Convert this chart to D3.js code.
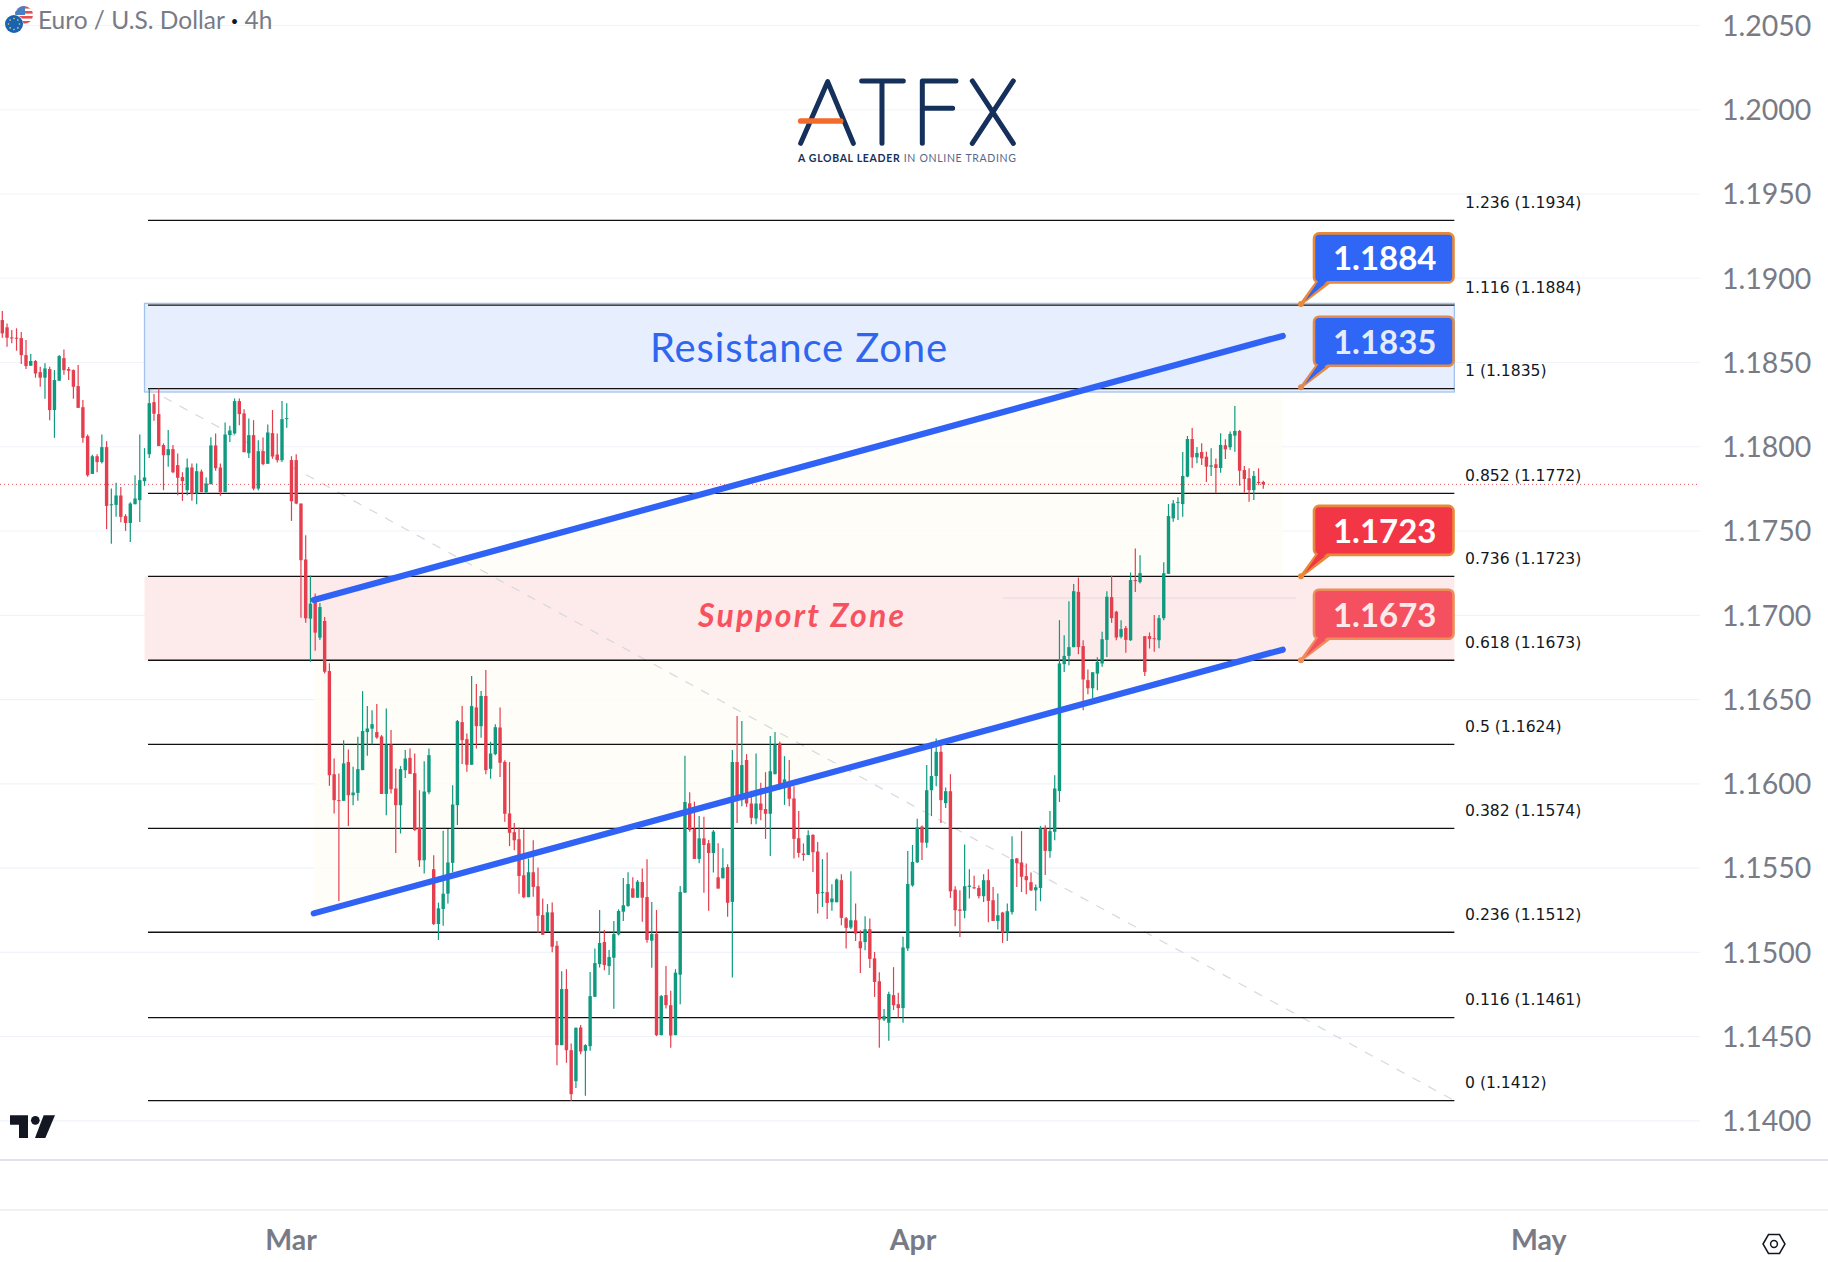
<!DOCTYPE html>
<meta charset="utf-8">
<title>Euro / U.S. Dollar 4h</title>
<style>
html, body { margin: 0; padding: 0; background: #fff; }
svg { display: block; }
</style>
<div id="chart"></div>
<script src="https://d3js.org/d3.v7.min.js"></script>
<script>
var opens = [
1.18749,1.18706,1.18646,1.18644,1.18642,1.18541,1.18478,1.18506,1.18440,1.18407,
1.18458,1.18215,1.18389,1.18523,1.18458,1.18452,1.18357,1.18232,1.18060,1.17836,
1.17941,1.17906,1.17995,1.17652,1.17652,1.17708,1.17585,1.17545,1.17656,1.17680,
1.17793,1.17953,1.18262,1.18191,1.18007,1.17947,1.17983,1.17888,1.17817,1.17739,
1.17874,1.17720,1.17850,1.17728,1.17775,1.18005,1.17874,1.17728,1.18066,1.18076,
1.18268,1.18195,1.17959,1.18066,1.17749,1.17971,1.17896,1.18078,1.17951,1.17918,
1.18163,1.17918,1.17918,1.17660,1.17328,1.16977,1.17100,1.16864,1.16963,1.16666,
1.16054,1.15900,1.15896,1.16126,1.15929,1.15943,1.16078,1.16304,1.16324,1.16304,
1.16278,1.15937,1.16230,1.15969,1.15870,1.16078,1.16151,1.16060,1.15737,1.15543,
1.15947,1.15490,1.15165,1.15254,1.15345,1.15528,1.15870,1.16363,1.16262,1.16110,
1.16450,1.16339,1.16518,1.16086,1.16173,1.16331,1.16127,1.15821,1.15710,1.15668,
1.15454,1.15324,1.15472,1.15389,1.15218,1.15119,1.15234,1.15036,1.14446,1.14779,
1.14416,1.14232,1.14551,1.14412,1.14440,1.14733,1.14927,1.15058,1.14915,1.14965,
1.15103,1.15238,1.15272,1.15376,1.15321,1.15414,1.15325,1.15066,1.15107,1.14505,
1.14743,1.14683,1.14505,1.14864,1.15351,1.15881,1.15729,1.15551,1.15673,1.15644,
1.15586,1.15442,1.15436,1.15503,1.15296,1.16126,1.15900,1.16138,1.15880,1.15791,
1.15880,1.15847,1.15819,1.16054,1.16237,1.15971,1.15989,1.15910,1.15674,1.15583,
1.15575,1.15694,1.15595,1.15350,1.15354,1.15294,1.15294,1.15425,1.15199,1.15144,
1.15187,1.15062,1.15058,1.15134,1.14961,1.14825,1.14598,1.14579,1.14743,1.14689,
1.14666,1.15020,1.15394,1.15531,1.15743,1.15647,1.15959,1.16043,1.16187,1.15882,
1.15953,1.15369,1.15251,1.15243,1.15385,1.15383,1.15379,1.15330,1.15425,1.15306,
1.15183,1.15233,1.15114,1.15235,1.15554,1.15530,1.15449,1.15413,1.15365,1.15379,
1.15732,1.15597,1.15712,1.15954,1.16707,1.16756,1.16808,1.17136,1.16814,1.16612,
1.16564,1.16651,1.16711,1.16851,1.17105,1.17018,1.16869,1.16921,1.16849,1.17206,
1.17194,1.16873,1.16873,1.16861,1.16849,1.16980,1.17243,1.17572,1.17665,1.17657,
1.17820,1.18043,1.17934,1.17966,1.17938,1.17879,1.17893,1.17871,1.18006,1.17994,
1.18063,1.18091,1.17859,1.17810,1.17740,1.17788,1.17788];
var highs = [
1.18803,1.18729,1.18690,1.18700,1.18678,1.18630,1.18547,1.18512,1.18472,1.18492,
1.18472,1.18452,1.18541,1.18575,1.18470,1.18456,1.18482,1.18274,1.18070,1.17949,
1.17953,1.18070,1.18030,1.17749,1.17783,1.17759,1.17597,1.17668,1.17828,1.18070,
1.17989,1.18343,1.18310,1.18343,1.18017,1.18096,1.18007,1.17957,1.17846,1.17927,
1.17898,1.17898,1.17862,1.17815,1.18054,1.18076,1.17898,1.18141,1.18122,1.18284,
1.18284,1.18219,1.18165,1.18155,1.18036,1.18052,1.18129,1.18215,1.18076,1.18268,
1.18256,1.17941,1.17953,1.17660,1.17472,1.17233,1.17126,1.17070,1.16987,1.16712,
1.16147,1.16058,1.16256,1.16201,1.16098,1.16276,1.16547,1.16458,1.16434,1.16470,
1.16286,1.16444,1.16316,1.16088,1.16102,1.16197,1.16207,1.16177,1.15959,1.16131,
1.16207,1.15573,1.15292,1.15718,1.15728,1.15989,1.16375,1.16458,1.16296,1.16636,
1.16589,1.16547,1.16672,1.16246,1.16351,1.16450,1.16137,1.16126,1.15765,1.15737,
1.15726,1.15553,1.15662,1.15500,1.15317,1.15283,1.15293,1.15064,1.14885,1.14897,
1.14456,1.14551,1.14565,1.14452,1.14880,1.15020,1.15248,1.15129,1.15010,1.15182,
1.15252,1.15438,1.15472,1.15442,1.15426,1.15495,1.15549,1.15295,1.15248,1.14743,
1.14915,1.14769,1.14897,1.15390,1.16163,1.15947,1.15891,1.15806,1.15802,1.15664,
1.15723,1.15644,1.15614,1.15519,1.16197,1.16399,1.16369,1.16173,1.15955,1.16177,
1.16003,1.16066,1.16280,1.16304,1.16246,1.16161,1.16138,1.15983,1.15835,1.15643,
1.15722,1.15698,1.15651,1.15550,1.15589,1.15401,1.15435,1.15460,1.15207,1.15478,
1.15286,1.15128,1.15211,1.15197,1.14999,1.14878,1.14660,1.14763,1.14909,1.14757,
1.15089,1.15598,1.15634,1.15790,1.15749,1.16108,1.16246,1.16266,1.16237,1.15975,
1.16054,1.15389,1.15365,1.15637,1.15490,1.15451,1.15395,1.15460,1.15490,1.15385,
1.15346,1.15237,1.15286,1.15686,1.15557,1.15716,1.15524,1.15470,1.15399,1.15746,
1.15751,1.15835,1.16048,1.16968,1.16879,1.17081,1.17182,1.17220,1.16849,1.16675,
1.16659,1.16748,1.16899,1.17140,1.17232,1.17024,1.16968,1.16933,1.17251,1.17394,
1.17354,1.16873,1.16895,1.16998,1.16998,1.17311,1.17657,1.17681,1.17697,1.17966,
1.18061,1.18109,1.17996,1.18018,1.17968,1.17988,1.17928,1.18077,1.18041,1.18087,
1.18239,1.18097,1.17883,1.17869,1.17853,1.17869,1.17796];
var lows = [
1.18644,1.18591,1.18611,1.18567,1.18488,1.18458,1.18478,1.18407,1.18353,1.18282,
1.18155,1.18050,1.18389,1.18424,1.18393,1.18282,1.18228,1.18021,1.17819,1.17836,
1.17846,1.17898,1.17508,1.17421,1.17581,1.17549,1.17498,1.17432,1.17656,1.17551,
1.17765,1.17931,1.18151,1.18001,1.17739,1.17878,1.17840,1.17710,1.17676,1.17710,
1.17676,1.17656,1.17728,1.17720,1.17775,1.17854,1.17706,1.17728,1.18025,1.18070,
1.18125,1.17965,1.17931,1.17739,1.17739,1.17888,1.17896,1.17926,1.17904,1.17908,
1.18110,1.17557,1.17656,1.16983,1.16953,1.16721,1.16787,1.16850,1.16652,1.15985,
1.15821,1.15302,1.15896,1.15747,1.15870,1.15896,1.16078,1.16163,1.16230,1.16264,
1.15937,1.15811,1.15939,1.15587,1.15702,1.16032,1.16056,1.15718,1.15504,1.15464,
1.15935,1.15159,1.15070,1.15155,1.15286,1.15474,1.15753,1.16114,1.16068,1.16110,
1.16207,1.16270,1.16054,1.16027,1.16167,1.16038,1.15771,1.15627,1.15603,1.15345,
1.15318,1.15324,1.15326,1.15113,1.15101,1.15119,1.14998,1.14327,1.14446,1.14341,
1.14114,1.14192,1.14392,1.14145,1.14412,1.14733,1.14907,1.14891,1.14862,1.14662,
1.15097,1.15182,1.15268,1.15321,1.15321,1.15178,1.15054,1.14905,1.14499,1.14505,
1.14664,1.14430,1.14505,1.14689,1.15351,1.15713,1.15551,1.15525,1.15351,1.15244,
1.15470,1.15375,1.15436,1.15208,1.14847,1.15765,1.15864,1.15860,1.15757,1.15757,
1.15781,1.15670,1.15569,1.16054,1.15963,1.15872,1.15864,1.15553,1.15559,1.15540,
1.15575,1.15474,1.15227,1.15266,1.15195,1.15243,1.15294,1.15157,1.15019,1.15136,
1.15064,1.14874,1.15009,1.14904,1.14732,1.14430,1.14590,1.14472,1.14654,1.14610,
1.14579,1.15004,1.15386,1.15527,1.15545,1.15617,1.15805,1.15983,1.15765,1.15854,
1.15320,1.15152,1.15088,1.15199,1.15316,1.15373,1.15316,1.15296,1.15175,1.15183,
1.15132,1.15053,1.15064,1.15221,1.15385,1.15355,1.15342,1.15361,1.15243,1.15300,
1.15456,1.15558,1.15662,1.15889,1.16661,1.16701,1.16808,1.16766,1.16434,1.16529,
1.16503,1.16552,1.16691,1.16750,1.16952,1.16849,1.16859,1.16774,1.16845,1.17135,
1.17186,1.16636,1.16800,1.16780,1.16802,1.16968,1.17243,1.17552,1.17562,1.17582,
1.17816,1.17871,1.17899,1.17889,1.17788,1.17824,1.17721,1.17843,1.17925,1.17978,
1.17968,1.17766,1.17725,1.17671,1.17681,1.17770,1.17748];
var closes = [
1.18670,1.18644,1.18642,1.18638,1.18541,1.18476,1.18506,1.18432,1.18407,1.18462,
1.18215,1.18393,1.18535,1.18452,1.18448,1.18353,1.18228,1.18050,1.17828,1.17941,
1.17906,1.17995,1.17646,1.17656,1.17708,1.17581,1.17545,1.17660,1.17690,1.17799,
1.17815,1.18256,1.18193,1.18001,1.17947,1.17983,1.17846,1.17813,1.17793,1.17874,
1.17716,1.17852,1.17728,1.17779,1.18005,1.17870,1.17728,1.18070,1.18094,1.18268,
1.18191,1.17965,1.18066,1.17749,1.17971,1.17894,1.18082,1.17939,1.17918,1.18161,
1.18167,1.17674,1.17660,1.17324,1.16979,1.17066,1.16894,1.17046,1.16662,1.16048,
1.15900,1.15896,1.16118,1.15929,1.15945,1.16084,1.16310,1.16325,1.16351,1.16272,
1.15937,1.16230,1.15965,1.15870,1.16084,1.16147,1.16056,1.15722,1.15543,1.15951,
1.16167,1.15165,1.15258,1.15345,1.15530,1.15874,1.16369,1.16256,1.16110,1.16458,
1.16339,1.16518,1.16078,1.16177,1.16333,1.16122,1.15819,1.15706,1.15662,1.15450,
1.15324,1.15472,1.15385,1.15214,1.15101,1.15234,1.15030,1.14446,1.14779,1.14416,
1.14155,1.14549,1.14408,1.14446,1.14737,1.14933,1.15052,1.14921,1.14969,1.15105,
1.15242,1.15276,1.15402,1.15321,1.15416,1.15321,1.15070,1.15105,1.14505,1.14737,
1.14683,1.14503,1.14876,1.15355,1.15889,1.15723,1.15551,1.15673,1.15634,1.15586,
1.15713,1.15375,1.15499,1.15291,1.16126,1.15900,1.16108,1.15880,1.15795,1.15880,
1.15841,1.15819,1.16072,1.16231,1.15971,1.16023,1.15908,1.15670,1.15587,1.15575,
1.15692,1.15591,1.15344,1.15354,1.15290,1.15316,1.15429,1.15201,1.15142,1.15187,
1.15108,1.15021,1.15134,1.14958,1.14821,1.14598,1.14618,1.14749,1.14683,1.14666,
1.15026,1.15402,1.15533,1.15739,1.15648,1.15959,1.16043,1.16187,1.15900,1.15953,
1.15359,1.15247,1.15243,1.15389,1.15393,1.15379,1.15330,1.15425,1.15302,1.15183,
1.15217,1.15114,1.15241,1.15550,1.15526,1.15445,1.15425,1.15365,1.15383,1.15732,
1.15599,1.15716,1.15969,1.16711,1.16756,1.16808,1.17140,1.16808,1.16616,1.16564,
1.16659,1.16721,1.16855,1.17107,1.16980,1.16865,1.16915,1.16851,1.17206,1.17202,
1.17247,1.16661,1.16857,1.16857,1.16980,1.17247,1.17586,1.17661,1.17669,1.17824,
1.18043,1.17934,1.17960,1.17928,1.17879,1.17887,1.17871,1.18008,1.17982,1.18073,
1.18091,1.17855,1.17806,1.17740,1.17824,1.17782,1.17774];

var priceTicks = [1.14,1.145,1.15,1.155,1.16,1.165,1.17,1.175,1.18,1.185,1.19,1.195,1.2,1.205];
var monthTicks = [60.8, 192, 324];
var monthLabels = ["Mar", "Apr", "May"];

var fibPrices = [1.1934, 1.18838, 1.18342, 1.17721, 1.17228, 1.1673, 1.16231, 1.15733, 1.15116, 1.14609, 1.14117];
var fibLabels = ["1.236 (1.1934)", "1.116 (1.1884)", "1 (1.1835)", "0.852 (1.1772)", "0.736 (1.1723)", "0.618 (1.1673)", "0.5 (1.1624)", "0.382 (1.1574)", "0.236 (1.1512)", "0.116 (1.1461)", "0 (1.1412)"];
var lastPrice = 1.17774;

var calloutLabels = ["1.1884", "1.1835", "1.1723", "1.1673"];
var calloutPrices = [1.18845, 1.1835, 1.17228, 1.1673];

var w = 1828, h = 1262;
var plotRight = 1700;
var green = "#0f9a80", red = "#e53e4e";

var x = d3.scaleLinear().domain([0, 266]).range([2.3, 1263.3]);
var y = d3.scaleLinear().domain([1.14, 1.205]).range([1120.3, 25]);
// bar index of the right hand end of the drawings
var drawEnd = 306.3, drawStart = 30.74;

var svg = d3.select("#chart").append("svg").attr("width", w).attr("height", h);
svg.append("rect").attr("width", w).attr("height", h).attr("fill", "#fff");

// grid
var grid = svg.append("g").call(d3.axisRight(y).tickValues(priceTicks).tickSize(plotRight).tickFormat(""));
grid.select(".domain").remove();
grid.selectAll("line").attr("stroke", "#f0f3fa").attr("stroke-width", 1.2);

// channel fill
var channelLow = [[65.7, 1.15228], [270.1, 1.16793]];
var channelHigh = [[65.7, 1.17088], [270.1, 1.18655]];
svg.append("path")
  .attr("d", d3.line().x(function(d){return x(d[0])}).y(function(d){return y(d[1])})(channelLow.concat(channelHigh.slice().reverse())))
  .attr("fill", "#fffcf5").attr("fill-opacity", .8);

// zones
function zone(top, bottom, fill, stroke) {
  svg.append("rect")
    .attr("x", x(30)).attr("y", y(top))
    .attr("width", x(drawEnd) - x(30)).attr("height", y(bottom) - y(top))
    .attr("fill", fill).attr("stroke", stroke).attr("stroke-width", 1.3);
}
zone(1.18848, 1.18322, "#e7eefd", "#a3c4ea");
zone(1.17228, 1.1673, "#fdeaea", "none");

// dashed diagonal of the fib
svg.append("line")
  .attr("x1", x(drawStart)).attr("y1", y(fibPrices[2]))
  .attr("x2", x(drawEnd)).attr("y2", y(fibPrices[10]))
  .attr("stroke", "#d6d8dc").attr("stroke-width", 1.2).attr("stroke-dasharray", "9 9");

// faint line inside the support zone
svg.append("line")
  .attr("x1", 1003).attr("x2", 1296).attr("y1", y(1.171)).attr("y2", y(1.171))
  .attr("stroke", "#e5d8e4").attr("stroke-width", 1);

// last price
svg.append("line")
  .attr("x1", 0).attr("x2", plotRight).attr("y1", y(lastPrice)).attr("y2", y(lastPrice))
  .attr("stroke", "#e0505c").attr("stroke-width", 1).attr("stroke-dasharray", "1 3");

// fib levels
svg.append("g").selectAll("line").data(fibPrices).enter().append("line")
  .attr("x1", x(drawStart)).attr("x2", x(drawEnd))
  .attr("y1", function(d){return y(d)}).attr("y2", function(d){return y(d)})
  .attr("stroke", "#111").attr("stroke-width", 1.3);

svg.append("g").selectAll("text").data(fibLabels).enter().append("text")
  .attr("x", 1465)
  .attr("y", function(d,i){return y(fibPrices[i]) - 12.5})
  .text(function(d){return d})
  .style("font-family", "'DejaVu Sans'").style("font-size", "15.6px").style("fill", "#131722");

// candles
var candles = svg.append("g").selectAll("g").data(d3.range(opens.length)).enter().append("g");
candles.append("line")
  .attr("x1", function(i){return x(i)}).attr("x2", function(i){return x(i)})
  .attr("y1", function(i){return y(highs[i])}).attr("y2", function(i){return y(lows[i])})
  .attr("stroke", function(i){return closes[i] >= opens[i] ? green : red})
  .attr("stroke-width", 1.2);
candles.append("rect")
  .attr("x", function(i){return x(i) - 1.7})
  .attr("width", 3.4)
  .attr("y", function(i){return y(Math.max(opens[i], closes[i]))})
  .attr("height", function(i){return Math.max(1, Math.abs(y(opens[i]) - y(closes[i])))})
  .attr("fill", function(i){return closes[i] >= opens[i] ? green : red});

// trend lines
[channelLow, channelHigh].forEach(function(c){
  svg.append("line")
    .attr("x1", x(c[0][0])).attr("y1", y(c[0][1]))
    .attr("x2", x(c[1][0])).attr("y2", y(c[1][1]))
    .attr("stroke", "#2f62f5").attr("stroke-width", 6.2).attr("stroke-linecap", "round");
});

// zone titles
svg.append("text").attr("x", 650).attr("y", 361.7)
  .attr("textLength", 297).attr("lengthAdjust", "spacing")
  .text("Resistance Zone")
  .style("font-family", "Lato").style("font-size", "40px").style("fill", "#2f66f0");
svg.append("text").attr("x", 698).attr("y", 627)
  .attr("textLength", 206).attr("lengthAdjust", "spacing")
  .text("Support Zone")
  .style("font-family", "Lato").style("font-size", "32px").style("font-weight", "bold").style("font-style", "italic").style("fill", "#f7525f");

// callouts
var calloutFill = ["#2f66f6", "#2f66f6", "#f23645", "#f4505f"];
var calloutLine = ["#e8893a", "#e08a50", "#e8893a", "#ee8d5a"];
var calloutText = ["#ffffff", "#e4ebfa", "#ffffff", "#fdeaea"];
calloutPrices.forEach(function(p, i){
  var ax = 1301, ay = y(p);
  var left = 1314, right = 1453.5, bottom = ay - 21.5, top = bottom - 49;
  var g = svg.append("g");
  g.append("path")
    .attr("d", "M" + ax + "," + ay + "L" + (left + 4) + "," + (bottom - 2) + "L" + (left + 18) + "," + (bottom - 2) + "Z")
    .attr("fill", calloutFill[i]).attr("stroke", calloutLine[i]).attr("stroke-width", 2.6).attr("stroke-linejoin", "round");
  g.append("rect")
    .attr("x", left).attr("y", top).attr("width", right - left).attr("height", bottom - top)
    .attr("rx", 5).attr("fill", calloutFill[i]).attr("stroke", calloutLine[i]).attr("stroke-width", 2.6);
  g.append("path")
    .attr("d", "M" + (ax + 4) + "," + (ay - 3) + "L" + (left + 6) + "," + (bottom - 4) + "L" + (left + 16) + "," + (bottom - 4) + "Z")
    .attr("fill", calloutFill[i]);
  g.append("circle").attr("cx", ax).attr("cy", ay).attr("r", 3).attr("fill", calloutLine[i]);
  g.append("text").attr("x", (left + right) / 2 + 1).attr("y", top + 37).attr("text-anchor", "middle")
    .text(calloutLabels[i])
    .style("font-family", "Lato").style("font-size", "33px").style("font-weight", "bold").style("fill", calloutText[i]);
});

// price axis
var yAxis = svg.append("g").attr("transform", "translate(1716,1.2)")
  .call(d3.axisRight(y).tickValues(priceTicks).tickSize(0).tickPadding(6).tickFormat(d3.format(".4f")));
yAxis.select(".domain").remove();
yAxis.selectAll("text")
  .style("font-family", "Lato").style("font-size", "28.5px").style("fill", "#787b86");

// time axis
svg.append("line").attr("x1", 0).attr("x2", w).attr("y1", 1160).attr("y2", 1160).attr("stroke", "#e0e3eb").attr("stroke-width", 2);
svg.append("line").attr("x1", 0).attr("x2", w).attr("y1", 1210).attr("y2", 1210).attr("stroke", "#e0e3eb").attr("stroke-width", 1.2);
var xAxis = svg.append("g").attr("transform", "translate(0,1230)")
  .call(d3.axisBottom(x).tickValues(monthTicks).tickSize(0).tickPadding(0).tickFormat(function(d,i){return monthLabels[i]}));
xAxis.select(".domain").remove();
xAxis.selectAll("text").attr("dy", "0.71em")
  .style("font-family", "Lato").style("font-size", "28.5px").style("font-weight", "bold").style("fill", "#787b86");

// header
var head = svg.append("text").attr("x", 38).attr("y", 29)
  .style("font-family", "Lato").style("font-size", "24.5px").style("fill", "#787b86");
head.append("tspan").text("Euro / U.S. Dollar ");
head.append("tspan").style("font-size", "13px").style("fill", "#131722").attr("dy", -3).text("\u2022");
head.append("tspan").attr("dy", 3).text(" 4h");

// flag icons
var flag = svg.append("g");
flag.append("clipPath").attr("id", "us").append("circle").attr("cx", 24).attr("cy", 15).attr("r", 9);
var us = flag.append("g").attr("clip-path", "url(#us)");
us.append("rect").attr("x", 14).attr("y", 5).attr("width", 20).attr("height", 20).attr("fill", "#fff");
d3.range(4).forEach(function(k){
  us.append("rect").attr("x", 14).attr("y", 6 + k * 5).attr("width", 20).attr("height", 2.6).attr("fill", "#e4504f");
});
us.append("rect").attr("x", 14).attr("y", 5).attr("width", 11).attr("height", 10).attr("fill", "#4a7fc4");
flag.append("circle").attr("cx", 14).attr("cy", 24).attr("r", 9.5).attr("fill", "#fff");
flag.append("circle").attr("cx", 14).attr("cy", 24).attr("r", 9).attr("fill", "#1a63b0");
d3.range(8).forEach(function(k){
  var a = k * Math.PI / 4;
  flag.append("circle").attr("cx", 14 + 5.5 * Math.cos(a)).attr("cy", 24 + 5.5 * Math.sin(a)).attr("r", .8).attr("fill", "#f0d060");
});

// ATFX logo
var logo = svg.append("g").attr("transform", "translate(760,60) scale(.3333)")
  .attr("fill", "none").attr("stroke", "#15305a").attr("stroke-width", 15).attr("stroke-linecap", "round").attr("stroke-linejoin", "round");
logo.append("path").attr("d", "M122,250L203,65L280,250");
logo.append("path").attr("d", "M305,63H430M366,63V250");
logo.append("path").attr("d", "M487,250V63H588M487,145H578");
logo.append("path").attr("d", "M637,63L760,250M760,63L637,250");
logo.append("path").attr("d", "M122,183H242").attr("stroke", "#f26b2b").attr("stroke-width", 17);
var tag = svg.append("text").attr("x", 798).attr("y", 161.5)
  .attr("textLength", 218).attr("lengthAdjust", "spacing")
  .style("font-family", "Lato").style("font-size", "10.5px").style("fill", "#15305a");
tag.append("tspan").style("font-weight", "bold").text("A GLOBAL LEADER");
tag.append("tspan").style("fill", "#56688a").text(" IN ONLINE TRADING");

// tradingview mark
var tv = svg.append("g").attr("transform", "translate(0,1090) scale(.3333)").attr("fill", "#131722");
tv.append("path").attr("d", "M30,76H84V144H57V104H30Z");
tv.append("circle").attr("cx", 106).attr("cy", 91).attr("r", 13);
tv.append("path").attr("d", "M131,76H165L136,144H105Z");

// settings mark
var cog = svg.append("g").attr("transform", "translate(1774,1244)").attr("fill", "none").attr("stroke", "#131722").attr("stroke-width", 1.5);
cog.append("path").attr("d", "M-11,0L-5.5,-9.5H5.5L11,0L5.5,9.5H-5.5Z");
cog.append("circle").attr("r", 3.4);
</script>
